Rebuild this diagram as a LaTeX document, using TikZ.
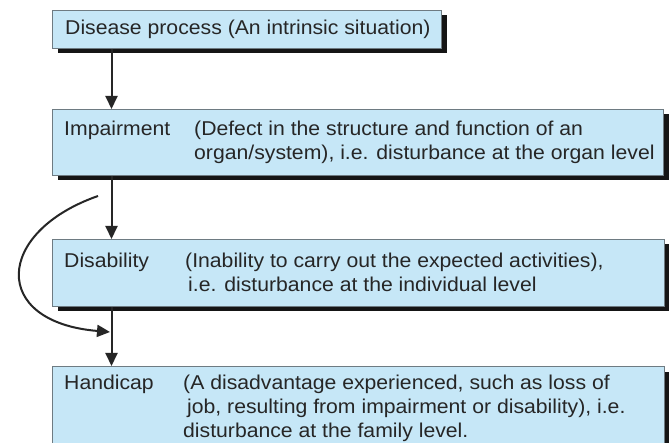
\documentclass[tikz,border=0pt]{standalone}
\usepackage{fontspec}
\setmainfont{Liberation Sans}[FakeStretch=1.06]
\usetikzlibrary{arrows.meta,shadows}
\definecolor{boxfill}{HTML}{C6E7F7}
\definecolor{boxline}{HTML}{6E7B82}
\definecolor{txtcol}{HTML}{262626}
\definecolor{shadowcol}{HTML}{151515}
\begin{document}
\begin{tikzpicture}[x=1pt,y=-1pt,
  box/.style={draw=boxline, line width=1pt, fill=boxfill, rectangle, inner sep=0pt, anchor=north west,
    drop shadow={shadow xshift=5pt, shadow yshift=-5pt, fill=shadowcol, opacity=1}},
  label/.style={font=\fontsize{20}{24}\selectfont, text=txtcol, inner sep=0pt, anchor=base west},
  arr/.style={draw=black!85, line width=2pt, -{Triangle[length=13pt,width=12pt]}}]
\useasboundingbox (0,0) rectangle (669,443);
\fill[white] (0,0) rectangle (669,443);
% boxes
\node[box, minimum width=389pt, minimum height=38pt] (b1) at (52,10) {};
\node[box, minimum width=611pt, minimum height=66pt] (b2) at (52,109) {};
\node[box, minimum width=612pt, minimum height=67pt] (b3) at (52,239) {};
\node[box, minimum width=612pt, minimum height=95pt] (b4) at (52,366) {};
% texts
\node[label] (t1) at (65,35) {Disease process (An intrinsic situation)};
\node[label] (t2a) at (64,136) {Impairment};
\node[label] (t2b) at (194,136) {(Defect in the structure and function of an};
\node[label] (t2c) at (194,160) {organ/system), i.e. disturbance at the organ level};
\node[label] (t3a) at (64,268) {Disability};
\node[label] (t3b) at (185,268) {(Inability to carry out the expected activities),};
\node[label] (t3c) at (188,292) {i.e. disturbance at the individual level};
\node[label] (t4a) at (64,389) {Handicap};
\node[label] (t4b) at (183,389) {(A disadvantage experienced, such as loss of};
\node[label] (t4c) at (187,413) {job, resulting from impairment or disability), i.e.};
\node[label] (t4d) at (183,437) {disturbance at the family level.};
% connectors
\coordinate (ax) at (111.5,0);
\draw[arr] (b1.south -| ax) -- (b2.north -| ax);
\draw[arr] (b2.south -| ax) -- (b3.north -| ax);
\draw[arr] (b3.south -| ax) -- (b4.north -| ax);
\coordinate (cs) at (98,196);
\coordinate (ce) at (110,332);
\draw[arr] (cs) .. controls (-5,232) and (-10,322) .. (ce);
\end{tikzpicture}
\end{document}
